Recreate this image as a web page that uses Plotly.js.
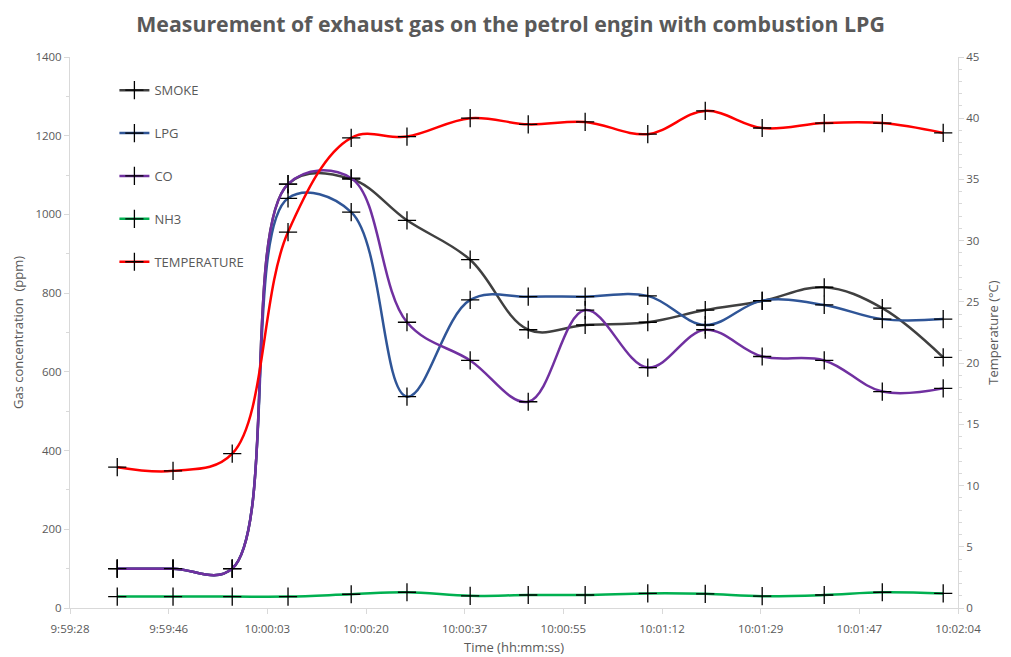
<!DOCTYPE html>
<html>
<head>
<meta charset="utf-8">
<script src="https://cdn.plot.ly/plotly-3.0.1.min.js"></script>
<style>html,body{margin:0;padding:0;background:#fff;}#chart{width:1011px;height:657px;}</style>
</head>
<body>
<div id="chart"></div>
<script>
// elapsed seconds since 9:59:28 (axis start)
const timeSec = [8.3, 18.1, 28.5, 38.3, 49.4, 59.2, 70.3, 80.5, 90.5, 101.5, 111.6, 121.6, 132.5, 142.7, 153.4];
const smoke = [100, 100, 100, 1077, 1090, 985, 885, 707, 719, 726, 757, 780, 815, 762, 637];
const lpg   = [100, 100, 100, 1041, 1006, 537, 783, 791, 791, 793, 719, 781, 770, 734, 734];
const co    = [100, 100, 100, 1077, 1092, 726, 629, 524, 757, 611, 707, 639, 629, 550, 558];
const nh3   = [29, 29, 29, 29, 35, 40, 31, 33, 33, 37, 36, 30, 33, 40, 37];
const temperature = [11.5, 11.2, 12.6, 30.7, 38.4, 38.5, 40.0, 39.5, 39.7, 38.7, 40.6, 39.2, 39.6, 39.6, 38.8];
const tickLabels = ["9:59:28", "9:59:46", "10:00:03", "10:00:20", "10:00:37", "10:00:55", "10:01:12", "10:01:29", "10:01:47", "10:02:04"];
const axisSpan = 156;

const tickVals = tickLabels.map((_, i) => i * axisSpan / (tickLabels.length - 1));
const grey = '#595959';
const axisLine = '#d9d9d9';
const fontFam = '"Open Sans", "Liberation Sans", sans-serif';

function mk(name, y, color, yaxis) {
  return {
    x: timeSec, y: y, name: name, type: 'scatter', mode: 'lines+markers',
    yaxis: yaxis || 'y', legendgroup: name,
    line: {color: color, width: 2.5, shape: 'spline', smoothing: 1.05},
    marker: {symbol: 'cross-thin', size: 13, color: '#000', line: {color: '#000', width: 1.3}}
  };
}

const data = [
  mk('SMOKE', smoke, '#404040'),
  mk('LPG', lpg, '#2f5597'),
  mk('CO', co, '#7030a0'),
  mk('NH3', nh3, '#00b050'),
  mk('TEMPERATURE', temperature, '#ff0000', 'y2')
];

const layout = {
  width: 1011, height: 657,
  margin: {l: 70, r: 53, t: 57, b: 49},
  paper_bgcolor: '#fff', plot_bgcolor: '#fff',
  font: {family: fontFam, color: grey, size: 12},
  title: {text: '<b>Measurement of exhaust gas on the petrol engin with combustion LPG</b>',
          font: {family: fontFam, size: 21.3, color: grey}, x: 0.505, xanchor: 'center', y: 0.962, yanchor: 'middle'},
  showlegend: true,
  legend: {x: 0.05, y: 0.967, xanchor: 'left', yanchor: 'top', bgcolor: 'rgba(0,0,0,0)',
           font: {family: fontFam, size: 13, color: grey}, tracegroupgap: 23, traceorder: 'grouped'},
  xaxis: {
    range: [0, axisSpan], tickmode: 'array', tickvals: tickVals, ticktext: tickLabels,
    showgrid: false, zeroline: false, showline: true, linecolor: axisLine, linewidth: 1,
    ticks: 'outside', ticklen: 5, tickcolor: axisLine, tickfont: {size: 11.5, color: grey},
    ticklabelstandoff: 5,
    title: {text: 'Time (hh:mm:ss)', font: {size: 13, color: grey}, standoff: 8}
  },
  yaxis: {
    range: [0, 1400], dtick: 200, showgrid: false, zeroline: false,
    showline: true, linecolor: axisLine, linewidth: 1,
    ticks: 'outside', ticklen: 5, tickcolor: axisLine, tickfont: {size: 11.5, color: grey},
    minor: {dtick: 100, ticks: 'outside', ticklen: 3, tickcolor: axisLine, showgrid: false},
    title: {text: 'Gas concentration  (ppm)', font: {size: 13, color: grey}, standoff: 8}
  },
  yaxis2: {
    range: [0, 45], dtick: 5, overlaying: 'y', side: 'right', showgrid: false, zeroline: false,
    showline: true, linecolor: axisLine, linewidth: 1,
    ticks: 'outside', ticklen: 5, tickcolor: axisLine, tickfont: {size: 11.5, color: grey},
    minor: {dtick: 1, ticks: 'outside', ticklen: 3, tickcolor: axisLine, showgrid: false},
    title: {text: 'Temperature (°C)', font: {size: 13, color: grey}, standoff: 10}
  }
};

Plotly.newPlot('chart', data, layout, {displayModeBar: false, staticPlot: true});
</script>
</body>
</html>
